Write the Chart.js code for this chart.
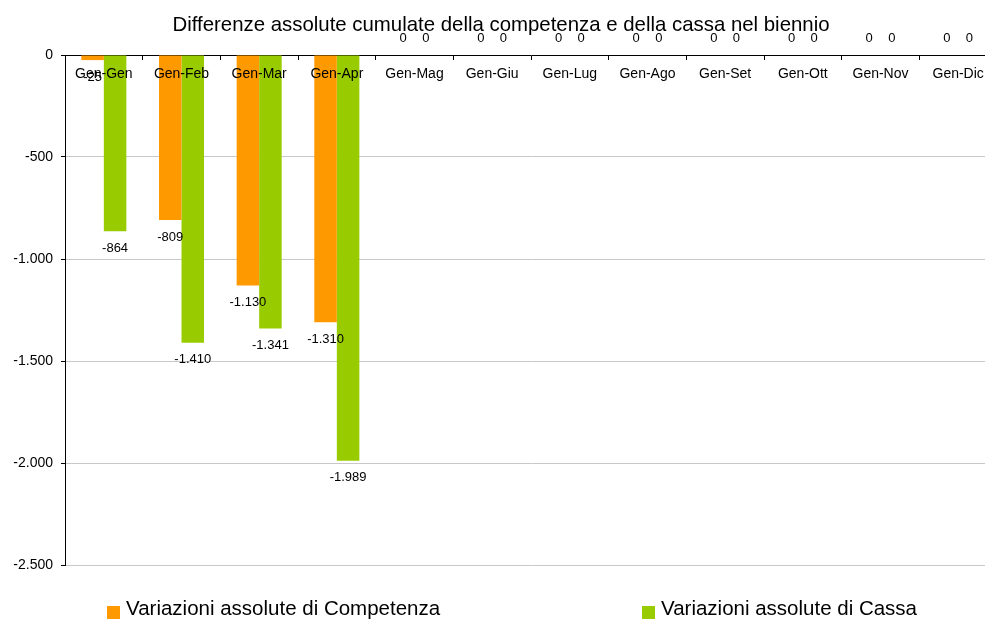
<!DOCTYPE html>
<html>
<head>
<meta charset="utf-8">
<script src="https://cdn.jsdelivr.net/npm/chart.js@4/dist/chart.umd.min.js"></script>
<style>
html,body{margin:0;padding:0;background:#fff;overflow:hidden;width:985px;height:621px;}
#wrap{width:997px;height:621px;position:relative;}
</style>
</head>
<body>
<div id="wrap"><canvas id="c"></canvas></div>
<script>
const titleText = 'Differenze assolute cumulate della competenza e della cassa nel biennio';
const categories = ['Gen-Gen','Gen-Feb','Gen-Mar','Gen-Apr','Gen-Mag','Gen-Giu','Gen-Lug','Gen-Ago','Gen-Set','Gen-Ott','Gen-Nov','Gen-Dic'];
const competenza = [-25, -809, -1130, -1310, 0, 0, 0, 0, 0, 0, 0, 0];
const cassa = [-864, -1410, -1341, -1989, 0, 0, 0, 0, 0, 0, 0, 0];
const seriesNames = ['Variazioni assolute di Competenza', 'Variazioni assolute di Cassa'];
const seriesColors = ['#FF9900', '#99CC00'];
const yMin = -2500, yMax = 0, yStep = 500;

const FONT = '"Liberation Sans", Arial, sans-serif';

function fmt(n){
  const s = Math.abs(Math.round(n)).toString().replace(/\B(?=(\d{3})+(?!\d))/g, '.');
  return (n < 0 ? '-' : '') + s;
}

const labelsPlugin = {
  id: 'labelsPlugin',
  afterDatasetsDraw(chart){
    const ctx = chart.ctx;
    const xs = chart.scales.x, ys = chart.scales.y;
    ctx.save();
    ctx.font = '14px ' + FONT;
    ctx.fillStyle = '#000';
    ctx.textAlign = 'center';
    ctx.textBaseline = 'middle';
    const y0 = ys.getPixelForValue(0);
    chart.data.labels.forEach((lab, i) => {
      ctx.fillText(lab, xs.getPixelForTick(i), y0 + 19);
    });
    ctx.font = '13px ' + FONT;
    chart.data.datasets.forEach((ds, i) => {
      const meta = chart.getDatasetMeta(i);
      meta.data.forEach((el, j) => {
        const v = ds.data[j];
        const y = v < 0 ? el.y + 17 : el.y - 17;
        ctx.fillText(fmt(v), el.x, y);
      });
    });
    ctx.restore();
  },
  afterDraw(chart){
    const ctx = chart.ctx;
    ctx.save();
    ctx.font = '20.4px ' + FONT;
    ctx.fillStyle = '#000';
    ctx.textAlign = 'center';
    ctx.textBaseline = 'middle';
    ctx.fillText(titleText, 501, 25);
    const lx = [107, 642];
    ctx.textAlign = 'left';
    ctx.font = '20.5px ' + FONT;
    chart.data.datasets.forEach((ds, i) => {
      ctx.fillStyle = ds.backgroundColor;
      ctx.fillRect(lx[i], 606, 13, 13);
      ctx.fillStyle = '#000';
      ctx.fillText(ds.label, lx[i] + 19, 609);
    });
    ctx.restore();
  }
};

new Chart(document.getElementById('c'), {
  type: 'bar',
  data: {
    labels: categories,
    datasets: [
      {label: seriesNames[0], data: competenza, backgroundColor: seriesColors[0], barPercentage: 1.0, categoryPercentage: 0.58},
      {label: seriesNames[1], data: cassa, backgroundColor: seriesColors[1], barPercentage: 1.0, categoryPercentage: 0.58}
    ]
  },
  options: {
    responsive: true,
    maintainAspectRatio: false,
    animation: false,
    layout: {padding: {top: 55, bottom: 56, left: 0, right: 0}},
    plugins: {legend: {display: false}, title: {display: false}, tooltip: {enabled: false}},
    scales: {
      x: {
        position: {y: 0},
        grid: {display: true, drawOnChartArea: false, drawTicks: true, tickLength: 4, offset: true, color: '#000'},
        border: {display: true, color: '#000', width: 1},
        ticks: {display: false}
      },
      y: {
        min: yMin, max: yMax,
        afterFit(scale){ scale.width = 65; },
        grid: {color: '#c8c8c8', tickColor: '#000', tickLength: 4, lineWidth: 1},
        border: {display: true, color: '#000', width: 1},
        ticks: {stepSize: yStep, callback: v => fmt(v), font: {family: FONT, size: 14}, color: '#000', padding: 8}
      }
    }
  },
  plugins: [labelsPlugin]
});
</script>
</body>
</html>
